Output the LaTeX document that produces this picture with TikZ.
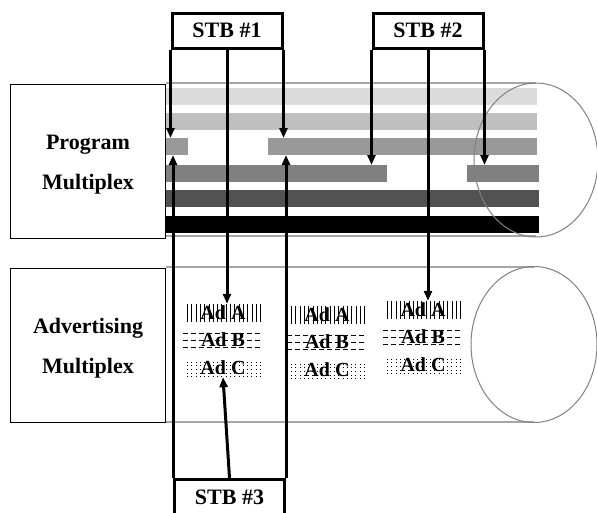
\documentclass[tikz,border=0pt]{standalone}
\usepackage{fontspec}
\setmainfont{Liberation Serif}
\usetikzlibrary{arrows.meta, positioning}

\newcommand{\muxlabel}[2]{\raisebox{-6pt}{\begin{tabular}{@{}c@{}}#1\\#2\end{tabular}}}

\tikzset{
  mux/.style={draw, line width=1pt, minimum width=155pt, minimum height=154pt, font=\fontsize{22}{40}\selectfont\bfseries},
  stb/.style={draw, line width=3pt, fill=white, minimum width=110pt, minimum height=35pt, inner sep=0pt, font=\fontsize{22}{25}\selectfont\bfseries},
  bar/.style={anchor=north west, minimum height=17pt, inner sep=0pt, outer sep=0pt},
  tube/.style={draw=gray!70, line width=1.5pt},
  rim/.style={draw=gray, line width=1pt},
  feed/.style={->, line width=3pt},
  ad/.style={minimum width=80pt, minimum height=18pt, inner sep=0pt, font=\fontsize{20}{20}\selectfont\bfseries},
  adA/.style={ad, path picture={
    \foreach \i in {1,...,18}
      \draw[line width=0.6pt] ([xshift=\i*4.3pt]path picture bounding box.south west) -- ([xshift=\i*4.3pt]path picture bounding box.north west);
  }},
  adB/.style={ad, path picture={
    \draw[line width=0.6pt, dash pattern=on 5pt off 3pt]
      ([yshift=2pt]path picture bounding box.south west) -- ([yshift=2pt]path picture bounding box.south east)
      (path picture bounding box.west) -- (path picture bounding box.east)
      ([yshift=-2pt]path picture bounding box.north west) -- ([yshift=-2pt]path picture bounding box.north east);
  }},
  adC/.style={ad, path picture={
    \foreach \i in {1,...,18}
      \draw[line width=0.7pt, dash pattern=on 0.7pt off 3pt] ([xshift=\i*4.3pt]path picture bounding box.south west) -- ([xshift=\i*4.3pt]path picture bounding box.north west);
  }},
}

\begin{document}
\begin{tikzpicture}[x=1pt, y=-1pt, >={Triangle[length=10pt,width=8pt]}]
    \useasboundingbox (0,0) rectangle (597,512);
    \clip (0,0) rectangle (597,512);

    % ---------------------------------------------------
    % Multiplex boxes
    % ---------------------------------------------------
    \node[mux] (prog) at (88,161) {\muxlabel{Program}{Multiplex}};
    \node[mux] (adv) at (88,345.5) {\muxlabel{Advertising}{Multiplex}};

    % ---------------------------------------------------
    % Program channels
    % ---------------------------------------------------
    \node[bar, fill=gray!28, minimum width=371pt] (b1) at (166,88) {};
    \node[bar, fill=gray!50, minimum width=371pt] (b2) at (166,113) {};
    \node[bar, fill=gray!80, minimum width=22pt] (b3a) at (166,138) {};
    \node[bar, fill=gray!80, minimum width=269pt] (b3b) at (268,138) {};
    \node[bar, fill=gray, minimum width=221pt] (b4a) at (166,165) {};
    \node[bar, fill=gray, minimum width=72pt] (b4b) at (467,165) {};
    \node[bar, fill=black!68, minimum width=373pt] (b5) at (166,190) {};
    \node[bar, fill=black, minimum width=373pt] (b6) at (166,216) {};

    % ---------------------------------------------------
    % Tubes
    % ---------------------------------------------------
    \draw[tube] (166,83) -- (536,83);
    \draw[tube] (166,236) -- (536,236);
    \draw[rim] (536,160) ellipse [x radius=62, y radius=77];

    \draw[tube] (166,267) -- (534,267);
    \draw[tube] (166,422) -- (534,422);
    \draw[rim] (534,344.5) ellipse [x radius=63, y radius=78];

    % ---------------------------------------------------
    % Advertisements
    % ---------------------------------------------------
    \foreach \c/\x/\y in {1/223/313, 2/327/315, 3/423/310} {
        \node[adA] (adA\c) at (\x,\y) {Ad A};
        \node[adB] (adB\c) at (\x,\y+27) {Ad B};
        \node[adC] (adC\c) at (\x,\y+55) {Ad C};
    }

    % ---------------------------------------------------
    % Set-top boxes
    % ---------------------------------------------------
    \node[stb] (stb1) at (227,30.5) {STB \#1};
    \node[stb] (stb2) at (428,30.5) {STB \#2};
    \node[stb, anchor=north] (stb3) at (229.5,478) {STB \#3};

    \draw[feed] (stb1.south west) -- (stb1.south west |- b3a.north);
    \draw[feed] (stb1.south) -- (stb1.south |- adA1.north);
    \draw[feed] (stb1.south east) -- (stb1.south east |- b3b.north);

    \draw[feed] (stb2.south west) -- (stb2.south west |- b4a.north);
    \draw[feed] (stb2.south) -- (stb2.south |- adA3.north);
    \draw[feed] (stb2.south east) -- (stb2.south east |- b4b.north);

    \draw[feed] (stb3.north west) -- (stb3.north west |- b3a.south);
    \draw[feed] (stb3.north) -- (adC1.south);
    \draw[feed] (stb3.north east) -- (stb3.north east |- b3b.south);

\end{tikzpicture}
\end{document}
